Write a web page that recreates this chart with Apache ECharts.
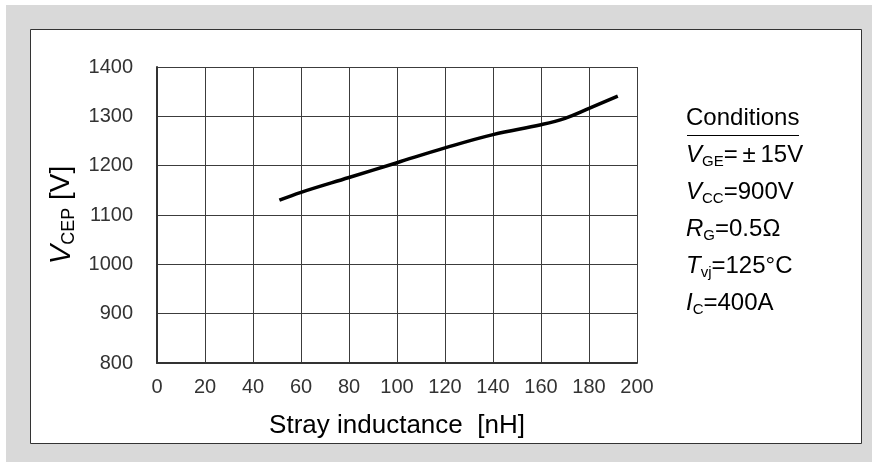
<!DOCTYPE html>
<html><head><meta charset="utf-8">
<script src="https://cdn.jsdelivr.net/npm/echarts@6/dist/echarts.min.js"></script>
<style>html,body{margin:0;padding:0;background:#fff}#c{width:872px;height:462px}</style>
</head><body><div id="c"></div>
<script>
const inductance = [51, 60, 80, 100, 120, 140, 160, 170, 180, 192];
const vcep = [1130, 1146, 1176, 1206, 1236, 1263, 1283, 1296, 1316, 1341];
const xTicks = [0, 20, 40, 60, 80, 100, 120, 140, 160, 180, 200];
const yTicks = [800, 900, 1000, 1100, 1200, 1300, 1400];
const conditionLines = [
  ['V', 'GE', '=\u2009\u00B1\u200915V'],
  ['V', 'CC', '=900V'],
  ['R', 'G', '=0.5\u03A9'],
  ['T', 'vj', '=125\u00B0C'],
  ['I', 'C', '=400A']
];

const FONT = 'Liberation Sans, Arial, sans-serif';
const chart = echarts.init(document.getElementById('c'), null, {renderer: 'canvas'});
const richCond = {
  it: {fontFamily: FONT, fontSize: 24, fontStyle: 'italic', color: '#000', lineHeight: 28},
  sub: {fontFamily: FONT, fontSize: 15, color: '#000', verticalAlign: 'bottom', lineHeight: 15},
  n: {fontFamily: FONT, fontSize: 24, color: '#000', lineHeight: 28}
};
const condGraphics = conditionLines.map((l, i) => ({
  type: 'text', left: 686, top: 157 + i * 37 - 14, z: 10,
  style: {text: '{it|' + l[0] + '}{sub|' + l[1] + '}{n|' + l[2] + '}', rich: richCond, verticalAlign: 'top'}
}));

chart.setOption({
  backgroundColor: '#ffffff',
  animation: false,
  graphic: [
    {type: 'rect', shape: {x: 6, y: 5, width: 866, height: 457}, style: {fill: '#d9d9d9'}, z: -10},
    {type: 'rect', shape: {x: 30.5, y: 29.5, width: 831, height: 414}, style: {fill: '#fff', stroke: '#333', lineWidth: 1}, z: -9},
    {type: 'text', left: 686, top: 120 - 14, z: 10,
      style: {text: 'Conditions', fontFamily: FONT, fontSize: 24, fill: '#000'}},
    {type: 'line', shape: {x1: 687, y1: 135.5, x2: 799, y2: 135.5}, style: {stroke: '#000', lineWidth: 1}, z: 10}
  ].concat(condGraphics),
  grid: {left: 157, right: 235, top: 67, bottom: 99, show: false},
  xAxis: {
    type: 'value', min: xTicks[0], max: xTicks[xTicks.length - 1], interval: 20,
    name: 'Stray inductance  [nH]', nameLocation: 'middle', nameGap: 50,
    nameTextStyle: {fontFamily: FONT, fontSize: 26, color: '#000'},
    axisLine: {show: true, onZero: false, lineStyle: {color: '#333', width: 2}},
    axisTick: {show: false},
    axisLabel: {fontFamily: FONT, fontSize: 20, color: '#333', margin: 14, formatter: v => String(v)},
    splitLine: {show: true, lineStyle: {color: '#3c3c3c', width: 1}}
  },
  yAxis: {
    type: 'value', min: yTicks[0], max: yTicks[yTicks.length - 1], interval: 100,
    name: '{it|V}{sub|CEP}{n| [V]}', nameLocation: 'middle', nameGap: 79, nameRotate: 90,
    nameTextStyle: {
      fontFamily: FONT, fontSize: 28, color: '#000',
      rich: {
        it: {fontFamily: FONT, fontSize: 29, fontStyle: 'italic', color: '#000', lineHeight: 32},
        sub: {fontFamily: FONT, fontSize: 18, color: '#000', verticalAlign: 'bottom', lineHeight: 17},
        n: {fontFamily: FONT, fontSize: 28, color: '#000', lineHeight: 32}
      }
    },
    axisLine: {show: true, onZero: false, lineStyle: {color: '#333', width: 2}},
    axisTick: {show: false},
    axisLabel: {fontFamily: FONT, fontSize: 20, color: '#333', margin: 24, formatter: v => String(v)},
    splitLine: {show: true, lineStyle: {color: '#3c3c3c', width: 1}}
  },
  series: [{
    type: 'line', smooth: 0.4, symbol: 'none',
    data: inductance.map((x, i) => [x, vcep[i]]),
    lineStyle: {color: '#000', width: 3.5}
  }]
});
</script></body></html>
